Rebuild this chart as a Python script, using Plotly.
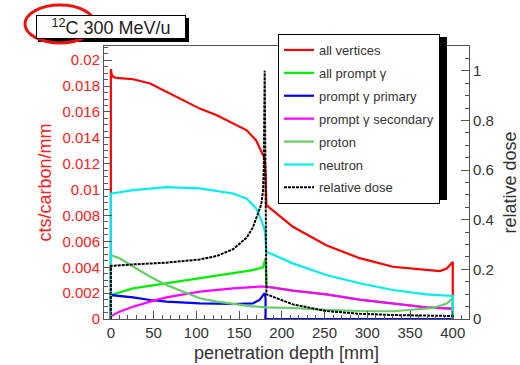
import plotly.graph_objects as go

# ---------------- data ----------------
depth_all = [0, 0, 1, 3, 7, 26, 46, 65, 85, 104, 124, 143, 159, 170, 176, 180, 181,
             182, 213, 252, 291, 330, 369, 385, 393, 399, 400, 400]
all_vertices = [0, 0.0193, 0.0189, 0.0187, 0.01863, 0.01853, 0.0182, 0.01755, 0.0169,
                0.01626, 0.01574, 0.0151, 0.01458, 0.0138, 0.0129, 0.0124, 0.0112,
                0.0088, 0.00713, 0.0057, 0.0047, 0.00404, 0.0038, 0.0037, 0.0039,
                0.0044, 0.0044, 0]

depth_n = [0, 0, 1, 26, 65, 104, 143, 159, 170, 176, 180, 181, 182, 213, 252, 291,
           330, 369, 399, 400, 400]
neutron = [0, 0.0097, 0.0097, 0.00996, 0.0102, 0.0101, 0.0097, 0.0093, 0.00855,
           0.00765, 0.00687, 0.0061, 0.0052, 0.0043, 0.0034, 0.00276, 0.00224,
           0.0019, 0.00178, 0.00178, 0]

depth_g = [0, 0, 26, 65, 104, 143, 166, 178, 180, 181, 182, 213, 252, 291, 330, 369,
           399, 400, 400]
prompt_all = [0, 0.00185, 0.00237, 0.00276, 0.00314, 0.00353, 0.00378, 0.0040,
              0.0044, 0.0047, 0.0025, 0.0022, 0.0019, 0.0015, 0.0012, 0.0009,
              0.0008, 0.0008, 0]

depth_p = [0, 0, 26, 46, 65, 104, 143, 166, 174, 180, 181, 181, 400]
prompt_primary = [0, 0.00185, 0.00167, 0.00147, 0.00134, 0.0012, 0.00116, 0.0012,
                  0.00147, 0.0020, 0.0016, 0, 0]

depth_s = [0, 0, 10, 26, 46, 65, 104, 143, 174, 181, 182, 213, 252, 291, 330, 369,
           399, 400, 400]
prompt_secondary = [0, 0.0002, 0.00057, 0.00095, 0.00134, 0.00167, 0.00211, 0.00237,
                    0.0025, 0.0025, 0.0025, 0.0022, 0.0019, 0.0015, 0.0012, 0.0009,
                    0.0008, 0.0008, 0]

depth_pr = [0, 0, 10, 26, 46, 65, 85, 104, 124, 143, 163, 181, 213, 252, 291, 330,
            377, 393, 399, 400, 400]
proton = [0, 0.00494, 0.0047, 0.00404, 0.00327, 0.00263, 0.00211, 0.0016, 0.00134,
          0.00116, 0.0010, 0.0009, 0.00085, 0.0007, 0.00062, 0.0006, 0.00085, 0.0012,
          0.0016, 0.0016, 0]

depth_d = [0, 0, 26, 65, 104, 124, 143, 159, 166, 172, 176, 178, 179, 180, 181, 182,
           213, 252, 291, 330, 399, 400, 400]
rel_dose = [0, 0.214, 0.22, 0.227, 0.24, 0.254, 0.281, 0.328, 0.368, 0.422, 0.462,
            0.516, 0.62, 1.0, 0.35, 0.0995, 0.059, 0.032, 0.021, 0.016, 0.012, 0.012, 0]

series = [
    ("all vertices", depth_all, all_vertices, "#ff0000"),
    ("all prompt γ", depth_g, prompt_all, "#00ee00"),
    ("prompt γ primary", depth_p, prompt_primary, "#0000ff"),
    ("prompt γ secondary", depth_s, prompt_secondary, "#ff00ff"),
    ("proton", depth_pr, proton, "#66cc66"),
    ("neutron", depth_n, neutron, "#00eeee"),
]

FONT = "Liberation Sans, Arial, sans-serif"

fig = go.Figure()
for i, (name, xs, ys, col) in enumerate(series):
    fig.add_trace(go.Scatter(x=xs, y=ys, mode="lines", name=name,
                             line=dict(color=col, width=2.2), legendgroup=str(i)))
fig.add_trace(go.Scatter(x=depth_d, y=rel_dose, mode="lines", name="relative dose",
                         yaxis="y2", legendgroup="d",
                         line=dict(color="black", width=2, dash="3px,1px")))

# plot area in pixels: left 104, right 469, top 46, bottom 319
L, R, T, B = 104, 469, 46, 319


def px(x):
    return (x - L) / (R - L)


def py(y):
    return (B - y) / (B - T)


shapes = [
    # legend shadow
    dict(type="rect", xref="paper", yref="paper", x0=px(281), x1=px(447), y0=py(200),
         y1=py(37), fillcolor="black", line=dict(width=0), layer="above"),
    # title box shadow
    dict(type="rect", xref="paper", yref="paper", x0=px(38), x1=px(189), y0=py(42),
         y1=py(18), fillcolor="black", line=dict(width=0), layer="above"),
]

fig.update_layout(
    width=520, height=365,
    margin=dict(l=L, r=520 - R, t=T, b=365 - B, pad=0, autoexpand=False),
    paper_bgcolor="white", plot_bgcolor="white",
    font=dict(family=FONT, color="#333333"),
    showlegend=True,
    legend=dict(x=px(278), y=py(34), xanchor="left", yanchor="top",
                bgcolor="white", bordercolor="black", borderwidth=1,
                font=dict(size=13, family=FONT, color="#333333"),
                tracegroupgap=3, itemwidth=30),
    xaxis=dict(range=[-8, 419], showline=True, linecolor="#555555", mirror=True,
               automargin=False,
               ticks="inside", ticklen=8, tickcolor="#555555", dtick=50, tick0=0,
               minor=dict(dtick=10, ticklen=4, ticks="inside", tickcolor="#555555"),
               showgrid=False, zeroline=False,
               tickfont=dict(size=15, color="#333333"),
               title=dict(text="penetration depth [mm]", font=dict(size=18, color="#333333"),
                          standoff=6)),
    yaxis=dict(range=[0, 0.0211], showline=True, linecolor="#555555",
               automargin=False,
               ticks="inside", ticklen=8, tickcolor="#555555", dtick=0.002, tick0=0,
               minor=dict(dtick=0.0005, ticklen=4, ticks="inside", tickcolor="#555555"),
               showgrid=False, zeroline=False,
               tickfont=dict(size=15, color="#ff2020"),
               title=dict(text="cts/carbon/mm", font=dict(size=18, color="#ff2020"),
                          standoff=6)),
    yaxis2=dict(range=[0, 1.1], overlaying="y", side="right", showline=True,
                automargin=False,
                linecolor="#555555", ticks="inside", ticklen=8, tickcolor="#555555",
                dtick=0.2, tick0=0,
                minor=dict(dtick=0.05, ticklen=4, ticks="inside", tickcolor="#555555"),
                showgrid=False, zeroline=False,
                tickfont=dict(size=15, color="#333333"),
                title=dict(text="relative dose", font=dict(size=18, color="#333333"),
                           standoff=14)),
    shapes=shapes,
    annotations=[
        dict(text="<sup>12</sup>C 300 MeV/u", xref="paper", yref="paper",
             x=px(110.5), y=py(27), xanchor="center", yanchor="middle",
             showarrow=False, font=dict(size=18, family=FONT, color="#222222"),
             bgcolor="white", bordercolor="black", borderwidth=1,
             width=148, height=22, borderpad=0),
    ],
)

# red ellipse marking drawn on top of the title box
fig.add_shape(type="circle", xref="paper", yref="paper", x0=px(25), x1=px(95),
              y0=py(43), y1=py(5), line=dict(color="#ee1111", width=3), layer="above")

fig.write_html("out.html")
